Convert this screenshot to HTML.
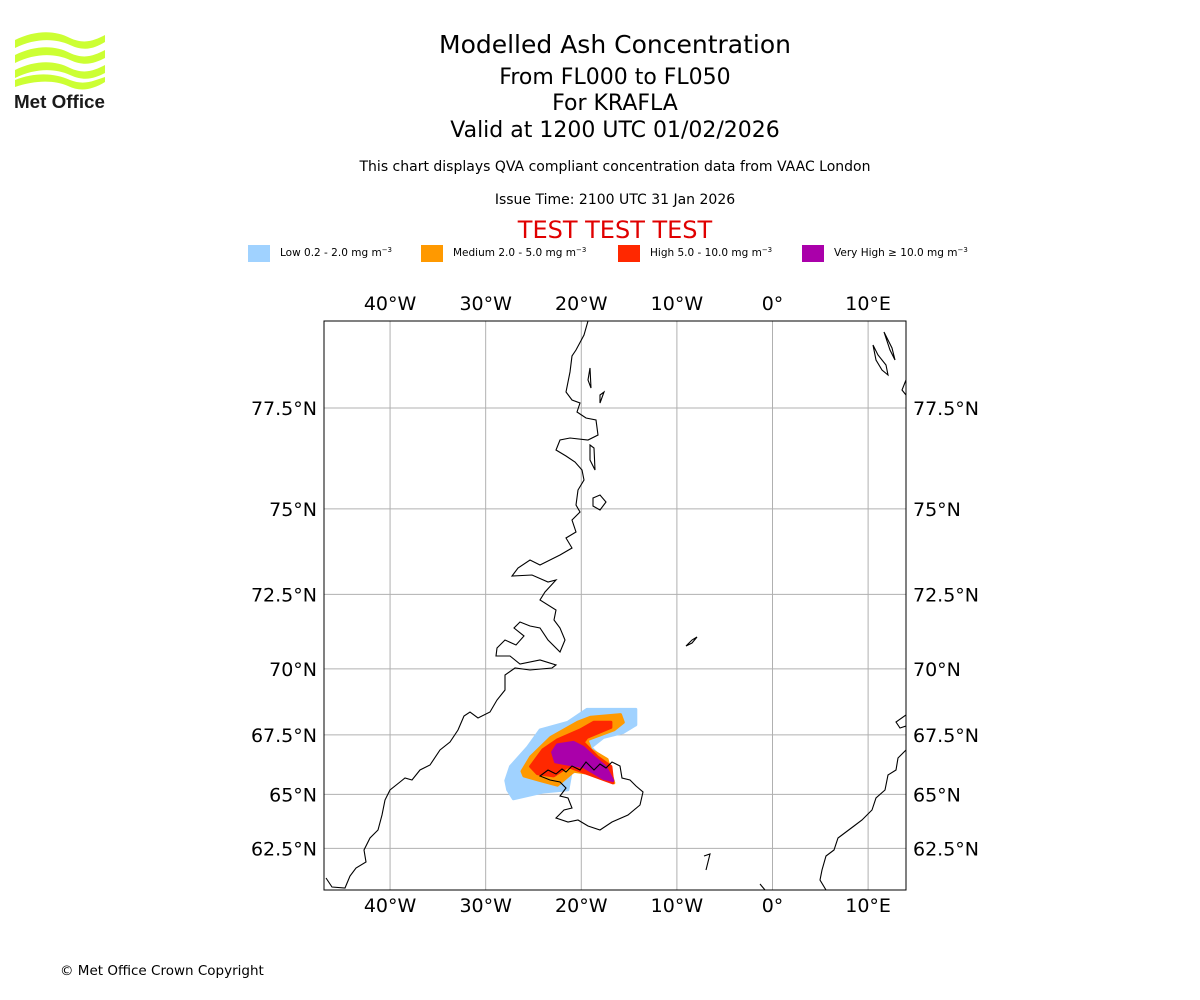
<!DOCTYPE html>
<html><head><meta charset="utf-8">
<style>
body{margin:0;background:#fff;}
svg{display:block;font-family:"DejaVu Sans","Liberation Sans",sans-serif;}
</style></head>
<body>
<svg id="chart" width="1200" height="1000" viewBox="0 0 1200 1000">
<g>
  <path d="M15,40 C35,30 55,30 70,38 C85,45 95,40 105,35 L105,42 C95,48 85,52 70,45 C55,38 35,38 15,48 Z" fill="#ccff33"/>
  <path d="M15,55 C35,45 55,45 70,53 C85,60 95,55 105,50 L105,58 C95,63 85,67 70,60 C55,53 35,53 15,63 Z" fill="#ccff33"/>
  <path d="M15,70 C35,60 55,60 70,68 C85,75 95,70 105,65 L105,73 C95,78 85,82 70,75 C55,68 35,68 15,78 Z" fill="#ccff33"/>
  <path d="M15,80 C35,72 55,73 70,80 C85,86 95,80 105,77 L105,82 C92,90 80,92 68,86 C55,80 35,80 15,87 Z" fill="#ccff33"/>
  <text x="14" y="108" font-size="18" font-weight="bold" fill="#1a1a1a" font-family="Liberation Sans, sans-serif" textLength="91" lengthAdjust="spacingAndGlyphs">Met Office</text>
</g>
<g text-anchor="middle" fill="#000">
  <text x="615" y="53" font-size="25">Modelled Ash Concentration</text>
  <text x="615" y="84" font-size="22">From FL000 to FL050</text>
  <text x="615" y="110" font-size="22">For KRAFLA</text>
  <text x="615" y="137" font-size="22">Valid at 1200 UTC 01/02/2026</text>
  <text x="615" y="171" font-size="14">This chart displays QVA compliant concentration data from VAAC London</text>
  <text x="615" y="204" font-size="14">Issue Time: 2100 UTC 31 Jan 2026</text>
  <text x="615" y="238" font-size="24" fill="#e00000">TEST TEST TEST</text>
</g>
<g font-size="10.5">
  <rect x="248" y="245" width="22" height="17" fill="#a0d2ff"/>
  <text x="280" y="256">Low 0.2 - 2.0 mg m<tspan dy="-4" font-size="7">−3</tspan></text>
  <rect x="421" y="245" width="22" height="17" fill="#ff9900"/>
  <text x="453" y="256">Medium 2.0 - 5.0 mg m<tspan dy="-4" font-size="7">−3</tspan></text>
  <rect x="618" y="245" width="22" height="17" fill="#ff2800"/>
  <text x="650" y="256">High 5.0 - 10.0 mg m<tspan dy="-4" font-size="7">−3</tspan></text>
  <rect x="802" y="245" width="22" height="17" fill="#aa00aa"/>
  <text x="834" y="256">Very High  ≥  10.0 mg m<tspan dy="-4" font-size="7">−3</tspan></text>
</g>
<defs><clipPath id="mapclip"><rect x="324" y="321" width="582" height="569"/></clipPath></defs>
<g id="grid"></g>
<g id="plume" clip-path="url(#mapclip)"></g>
<g clip-path="url(#mapclip)" fill="none" stroke="#000" stroke-width="1.1">
  <path d="M588,321 L584,335 L576,350 L572,356 L570,372 L566,392 L572,400 L580,403 L577,412 L586,418 L596,420 L598,435 L588,440 L570,438 L560,440 L556,450 L566,456 L575,462 L582,470 L584,480 L578,490 L576,505 L580,512 L572,520 L576,532 L566,538 L572,548 L560,555 L550,560 L540,565 L530,560 L518,568 L512,576 L532,575 L548,582 L556,580 L545,592 L540,600 L556,610 L554,620 L560,628 L565,640 L560,652 L548,640 L540,628 L530,626 L520,622 L514,628 L524,636 L516,645 L505,640 L497,648 L496,656 L510,656 L520,664 L540,660 L556,665 L552,668 L530,670 L515,668 L505,675 L505,690 L497,700 L490,712 L478,718 L470,712 L464,716 L458,730 L450,742 L440,750 L430,765 L420,770 L412,780 L405,778 L400,782 L390,790 L385,800 L382,815 L378,830 L370,838 L364,850 L366,862 L356,868 L350,876 L345,888 L332,887 L326,878"/>
  <path d="M556,774 L562,769 L566,772 L572,766 L580,770 L586,762 L594,770 L600,764 L606,768 L612,762 L620,766 L622,778 L630,780 L636,786 L643,792 L640,805 L628,815 L612,822 L600,830 L588,826 L578,820 L568,822 L556,818 L564,810 L572,808 L568,798 L560,796 L566,788 L560,782 L550,780 L540,776 L548,770 Z"/>
  <path d="M873,345 L878,355 L886,365 L888,375 L882,370 L876,360 Z M884,332 L892,348 L895,360 L890,350 Z M906,380 L902,390 L906,395"/>
  <path d="M686,646 L692,640 L697,637 L692,643 Z"/>
  <path d="M906,715 L896,722 L900,728 L906,726 M906,750 L898,758 L896,770 L888,775 L885,790 L876,798 L872,810 L862,820 L854,826 L846,832 L838,838 L834,850 L826,856 L822,870 L820,880 L826,890"/>
  <path d="M704,856 L710,854 L708,862 L706,870 M760,884 L765,890"/>
  <path d="M590,368 L591,388 L588,380 Z M600,395 L604,392 L600,403 Z M590,445 L594,448 L595,470 L590,460 Z M593,498 L600,495 L606,502 L600,510 L593,506 Z"/>
</g>
<rect x="324" y="321" width="582" height="569" fill="none" stroke="#000" stroke-width="1"/>
<g id="labels" font-size="19" fill="#000"></g>
<text x="60" y="975" font-size="13.5">© Met Office Crown Copyright</text>
</svg>
<script>
const lonTicks = [-40, -30, -20, -10, 0, 10];
const lonTickLabels = ["40°W", "30°W", "20°W", "10°W", "0°", "10°E"];
const latTicks = [62.5, 65, 67.5, 70, 72.5, 75, 77.5];
const latTickLabels = ["62.5°N", "65°N", "67.5°N", "70°N", "72.5°N", "75°N", "77.5°N"];
const lowLon = [-27.9,-27.4,-25.6,-24.3,-21.4,-19.4,-14.3,-14.3,-15.6,-17.7,-19.0,-18.0,-21.1,-21.4,-24.0,-27.1,-27.7];
const lowLat = [65.6,66.2,67.0,67.7,68.0,68.5,68.5,67.9,67.6,67.4,67.0,66.6,65.9,65.2,65.1,64.8,65.2];
const medLon = [-26.2,-25.3,-23.2,-20.4,-19.0,-15.9,-15.6,-16.6,-19.4,-19.0,-17.3,-16.6,-17.3,-20.8,-22.5,-24.3,-26.0];
const medLat = [66.0,66.6,67.4,68.0,68.2,68.3,68.0,67.7,67.3,66.9,66.5,65.5,65.8,66.0,65.4,65.6,65.8];
const highLon = [-25.3,-24.0,-22.5,-20.1,-18.7,-16.9,-16.9,-19.4,-19.8,-18.3,-16.9,-16.7,-18.0,-21.4,-22.9,-24.6];
const highLat = [66.2,66.9,67.3,67.7,68.0,68.0,67.8,67.4,67.2,66.6,66.2,65.5,65.7,66.2,65.8,65.9];
const vhighLon = [-23.0,-22.5,-20.8,-19.8,-18.7,-17.5,-16.7,-17.7,-19.8,-21.4,-22.7];
const vhighLat = [66.8,67.1,67.2,67.0,66.6,66.2,65.6,65.7,66.2,66.3,66.4];

const NS = "http://www.w3.org/2000/svg";
const K = 547.8;
function merc(lat){ return Math.log(Math.tan(Math.PI/4 + lat*Math.PI/360)); }
function xScale(lon){ return 772.5 + lon*K*Math.PI/180; }
function yScale(lat){ return 408 + K*(merc(77.5) - merc(lat)); }

const grid = document.getElementById('grid');
const labels = document.getElementById('labels');
lonTicks.forEach((lon,i)=>{
  const x = xScale(lon);
  const l = document.createElementNS(NS,'line');
  l.setAttribute('x1',x); l.setAttribute('x2',x); l.setAttribute('y1',321); l.setAttribute('y2',890);
  l.setAttribute('stroke','#b0b0b0'); l.setAttribute('stroke-width','1');
  
  
  grid.appendChild(l);
  [310, 912].forEach(y=>{
    const t = document.createElementNS(NS,'text');
    t.setAttribute('x',x); t.setAttribute('y',y); t.setAttribute('text-anchor','middle');
    t.textContent = lonTickLabels[i];
    
    
    labels.appendChild(t);
  });
});
latTicks.forEach((lat,i)=>{
  const y = yScale(lat);
  const l = document.createElementNS(NS,'line');
  l.setAttribute('x1',324); l.setAttribute('x2',906); l.setAttribute('y1',y); l.setAttribute('y2',y);
  l.setAttribute('stroke','#b0b0b0'); l.setAttribute('stroke-width','1');
  
  
  grid.appendChild(l);
  [[317,'end'],[913,'start']].forEach(([x,a])=>{
    const t = document.createElementNS(NS,'text');
    t.setAttribute('x',x); t.setAttribute('y',y+7); t.setAttribute('text-anchor',a);
    t.textContent = latTickLabels[i];
    
    
    labels.appendChild(t);
  });
});
const plume = document.getElementById('plume');
function addPoly(lons, lats, fill, name){
  const p = document.createElementNS(NS,'polygon');
  p.setAttribute('points', lons.map((lo,i)=>xScale(lo).toFixed(1)+','+yScale(lats[i]).toFixed(1)).join(' '));
  p.setAttribute('fill', fill);
  p.setAttribute('stroke', fill);
  p.setAttribute('stroke-width', '3');
  p.setAttribute('stroke-linejoin','round');
  
  
  plume.appendChild(p);
}
addPoly(lowLon, lowLat, '#a0d2ff', 'ash-low-contour');
addPoly(medLon, medLat, '#ff9900', 'ash-medium-contour');
addPoly(highLon, highLat, '#ff2800', 'ash-high-contour');
addPoly(vhighLon, vhighLat, '#aa00aa', 'ash-very-high-contour');
</script>
</body></html>
